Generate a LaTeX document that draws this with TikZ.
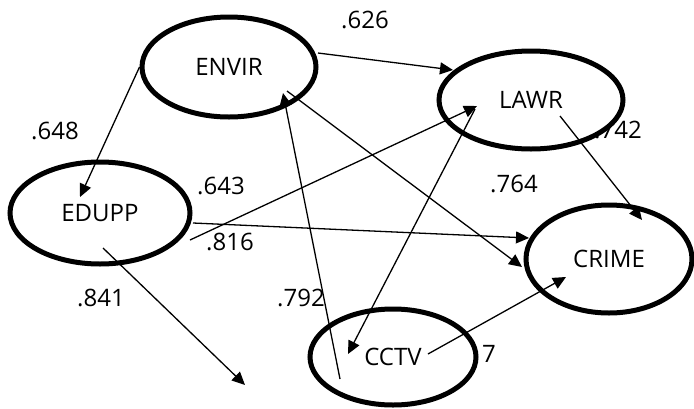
\documentclass[tikz,border=0pt]{standalone}
\usepackage{fontspec}
\setmainfont{Open Sans}
\usetikzlibrary{shapes.geometric,arrows.meta}
\tikzstyle{latent} = [draw, ellipse, line width=5pt, fill=white, inner sep=0pt, font=\fontsize{24}{26}\selectfont]
\tikzstyle{arrow} = [line width=1.3pt, -{Triangle[length=13pt,width=12pt]}]
\tikzstyle{coef} = [font=\fontsize{24}{26}\selectfont, inner sep=0pt]

\begin{document}
\begin{tikzpicture}[x=1pt, y=-1pt]
    \useasboundingbox (0,0) rectangle (694,408);

    % coefficients (partly hidden by the ellipses)
    \node (c626) [coef] at (365,20) {.626};
    \node (c648) [coef] at (55,131) {.648};
    \node (c643) [coef] at (221,186) {.643};
    \node (c816) [coef] at (230,242) {.816};
    \node (c764) [coef] at (514,184) {.764};
    \node (c742) [coef] at (618,130) {.742};
    \node (c841) [coef] at (101,298) {.841};
    \node (c792) [coef] at (301,298) {.792};
    \node (c7) [coef] at (489,354) {7};

    % latent variables
    \node (envir) [latent, minimum width=174pt, minimum height=100pt] at (229,67) {ENVIR};
    \node (lawr) [latent, minimum width=184pt, minimum height=98pt] at (531,100) {LAWR};
    \node (edupp) [latent, minimum width=180pt, minimum height=102pt] at (100,213) {EDUPP};
    \node (crime) [latent, minimum width=166pt, minimum height=108pt] at (609,259) {CRIME};
    \node (cctv) [latent, minimum width=166pt, minimum height=96pt] at (393,357) {CCTV};
    \coordinate (loose) at (245,385);

    % paths
    \draw [arrow] (envir.west) -- ([shift={(-20,-16)}]edupp.center);
    \draw [arrow] ([shift={(89,-14)}]envir.center) -- ([shift={(-78,-30)}]lawr.center);
    \draw [arrow] ([shift={(58,24)}]envir.center) -- ([shift={(-87,8)}]crime.center);
    \draw [arrow] ([shift={(90,27)}]edupp.center) -- ([shift={(-54,6)}]lawr.center);
    \draw [arrow] ([shift={(93,10)}]edupp.center) -- ([shift={(-80,-21)}]crime.center);
    \draw [arrow] ([shift={(3,35)}]edupp.center) -- (loose);
    \draw [arrow] ([shift={(-53,22)}]cctv.center) -- ([shift={(54,26)}]envir.center);
    \draw [arrow] ([shift={(-56,9)}]lawr.center) -- ([shift={(-45,-3)}]cctv.center);
    \draw [arrow] ([shift={(29,16)}]lawr.center) -- ([shift={(33,-39)}]crime.center);
    \draw [arrow] ([shift={(35,-3)}]cctv.center) -- ([shift={(-43,18)}]crime.center);
\end{tikzpicture}
\end{document}
